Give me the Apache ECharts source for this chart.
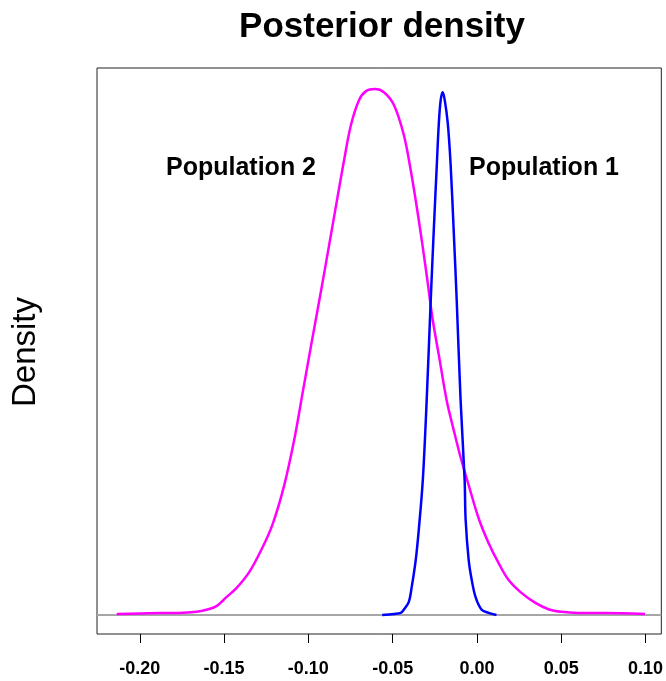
<!DOCTYPE html>
<html>
<head>
<meta charset="utf-8">
<script src="https://cdn.jsdelivr.net/npm/echarts@6/dist/echarts.min.js"></script>
<style>
  html, body { margin: 0; padding: 0; background: #fff; }
  #chart { width: 666px; height: 681px; }
</style>
</head>
<body>
<div id="chart"></div>
<script>
// Posterior density of the two populations (relative density, peak = 1)
const pop2X = [-0.2137, -0.2001, -0.1883, -0.1765, -0.1663, -0.1604, -0.1545, -0.1486, -0.1427, -0.1350,
               -0.1279, -0.1214, -0.1143, -0.1084, -0.1031, -0.0978, -0.0924, -0.0877, -0.0830, -0.0788,
               -0.0747, -0.0699, -0.0658, -0.0605, -0.0552, -0.0493, -0.0434, -0.0393, -0.0345, -0.0298,
               -0.0262, -0.0221, -0.0180, -0.0138, -0.0097, -0.0049, 0.0010, 0.0069, 0.0128, 0.0187,
               0.0264, 0.0347, 0.0424, 0.0501, 0.0601, 0.0761, 0.0997];
const pop2Y = [0.002, 0.003, 0.004, 0.004, 0.006, 0.010, 0.017, 0.034, 0.051, 0.082,
               0.124, 0.171, 0.247, 0.333, 0.428, 0.523, 0.618, 0.703, 0.789, 0.865,
               0.932, 0.979, 0.996, 1.000, 0.994, 0.970, 0.913, 0.846, 0.751, 0.646,
               0.561, 0.485, 0.409, 0.352, 0.300, 0.247, 0.184, 0.137, 0.099, 0.067,
               0.042, 0.023, 0.011, 0.006, 0.004, 0.004, 0.002];

const pop1X = [-0.0562, -0.0491, -0.0452, -0.0434, -0.0404, -0.0387, -0.0363, -0.0345, -0.0321, -0.0298,
               -0.0274, -0.0256, -0.0238, -0.0226, -0.0215, -0.0203, -0.0191, -0.0173, -0.0156, -0.0138,
               -0.0120, -0.0097, -0.0073, -0.0067, -0.0049, -0.0031, -0.0008, 0.0028, 0.0069, 0.0116];
const pop1Y = [0.000, 0.002, 0.004, 0.010, 0.025, 0.053, 0.105, 0.162, 0.257, 0.409,
               0.599, 0.732, 0.856, 0.935, 0.979, 0.994, 0.979, 0.935, 0.856, 0.732,
               0.599, 0.409, 0.257, 0.181, 0.105, 0.067, 0.034, 0.010, 0.004, 0.000];

const xTicks = [-0.20, -0.15, -0.10, -0.05, 0.00, 0.05, 0.10];
const seriesNames = ['Population 1', 'Population 2'];
const titleText = 'Posterior density';
const yTitle = 'Density';

const zip = (xs, ys) => xs.map((x, i) => [x, ys[i]]);
const FONT = '"Liberation Sans", Arial, sans-serif';

const chart = echarts.init(document.getElementById('chart'), null, { renderer: 'canvas' });

chart.setOption({
  animation: false,
  backgroundColor: '#ffffff',
  grid: {
    left: 97, right: 3, top: 68, bottom: 47,
    show: true, borderColor: '#222', borderWidth: 1, backgroundColor: 'transparent'
  },
  xAxis: {
    type: 'value',
    min: -0.2254, max: 0.1094,
    axisLine: { show: false, onZero: false },
    splitLine: { show: false },
    axisTick: { show: true, customValues: xTicks, length: 9, lineStyle: { color: '#000', width: 1 } },
    axisLabel: {
      customValues: xTicks,
      formatter: v => v.toFixed(2),
      color: '#000', fontSize: 18, fontWeight: 'bold', fontFamily: FONT, margin: 26
    }
  },
  yAxis: {
    type: 'value',
    min: -0.0361, max: 1.040,
    show: false,
    splitLine: { show: false }
  },
  series: [
    {
      name: seriesNames[1],
      type: 'line',
      data: zip(pop2X, pop2Y),
      showSymbol: false,
      smooth: 0.35,
      lineStyle: { color: '#ff00ff', width: 2.5 },
      z: 3,
      markLine: {
        silent: true,
        symbol: 'none',
        label: { show: false },
        lineStyle: { color: '#a6a6a6', width: 2, type: 'solid' },
        data: [{ yAxis: 0 }],
        z: 1
      }
    },
    {
      name: seriesNames[0],
      type: 'line',
      data: zip(pop1X, pop1Y),
      showSymbol: false,
      smooth: 0.35,
      lineStyle: { color: '#0000ff', width: 2.5 },
      z: 4
    }
  ],
  graphic: [
    {
      type: 'text', x: 382, y: 27,
      style: { text: titleText, font: 'bold 35px ' + FONT, fill: '#000', textAlign: 'center', textVerticalAlign: 'middle' }
    },
    {
      type: 'text', x: 26, y: 352, rotation: Math.PI / 2,
      style: { text: yTitle, font: '33px ' + FONT, fill: '#000', textAlign: 'center', textVerticalAlign: 'middle' }
    },
    {
      type: 'text', x: 241, y: 168,
      style: { text: seriesNames[1], font: 'bold 25px ' + FONT, fill: '#000', textAlign: 'center', textVerticalAlign: 'middle' }
    },
    {
      type: 'text', x: 544, y: 168,
      style: { text: seriesNames[0], font: 'bold 25px ' + FONT, fill: '#000', textAlign: 'center', textVerticalAlign: 'middle' }
    }
  ]
});
</script>
</body>
</html>
